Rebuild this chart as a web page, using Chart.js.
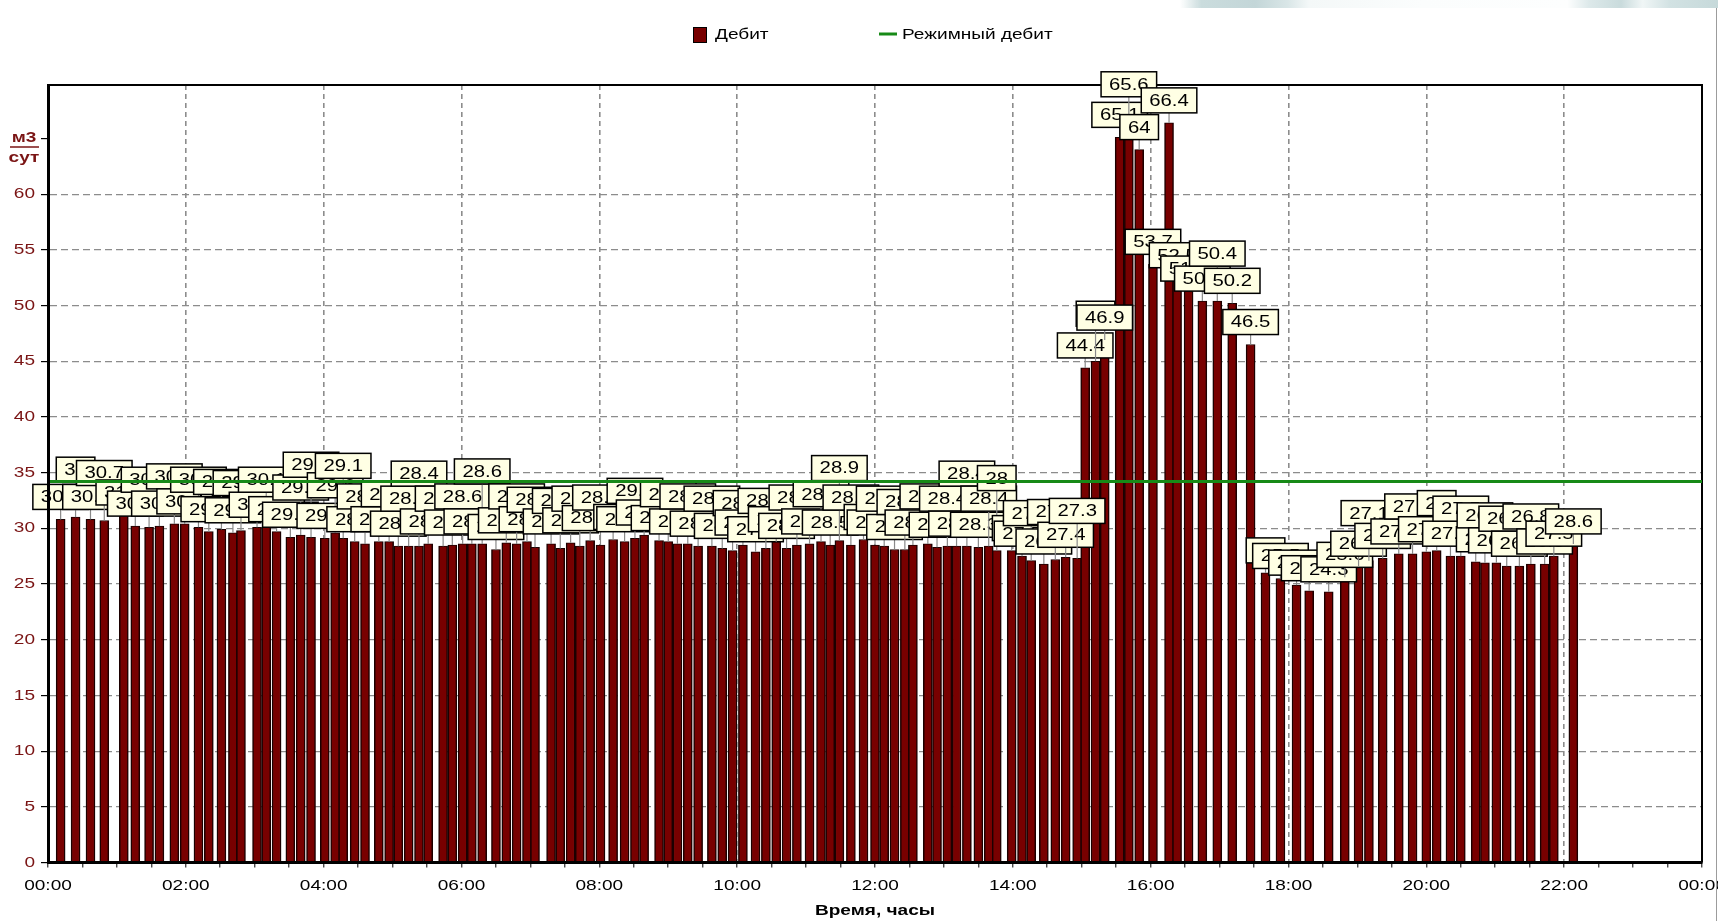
<!DOCTYPE html>
<html lang="ru">
<head>
<meta charset="utf-8">
<title>Дебит скважины за сутки</title>
<script src="https://cdn.jsdelivr.net/npm/chart.js@4.4.1/dist/chart.umd.min.js"></script>
<style>
  html, body { margin: 0; padding: 0; background: #fff; }
  body { width: 1718px; height: 921px; overflow: hidden; position: relative; }
  #chart { position: absolute; left: 0; top: 0; width: 1718px; height: 921px; }
  #topStrip {
    position: absolute; left: 1180px; top: 0; width: 538px; height: 8px;
    background: linear-gradient(90deg, rgba(205,222,224,0) 0%, #cadcdd 4%, #c3d6d8 14%, #d9e6e7 20%,
      #f4f8f8 24%, #fbfdfd 45%, #fdfefe 72%, #dde9ea 76%, #c9dbdc 82%, #f0f6f6 86%, #d2e2e3 91%, #c6d9da 100%);
  }
  #edge { position: absolute; left: 1716px; top: 8px; width: 1px; height: 913px; background: #9c9c9c; }
</style>
</head>
<body>
<canvas id="chart" width="1718" height="921"></canvas>
<div id="topStrip"></div>
<div id="edge"></div>
<script>
// Sample times (HH:MM) and measured flow rate, m3/day
const sampleTimes = [
  '00:11','00:24','00:37','00:49','01:06','01:16','01:28','01:37','01:50','01:59',
  '02:11','02:20','02:31','02:41','02:48','03:02','03:10','03:19','03:31','03:40',
  '03:49','04:01','04:10','04:17','04:27','04:36','04:48','04:57','05:05','05:14',
  '05:23','05:31','05:44','05:52','06:01','06:09','06:18','06:30','06:39','06:48',
  '06:57','07:04','07:18','07:26','07:35','07:43','07:52','08:01','08:12','08:22',
  '08:31','08:39','08:52','09:00','09:08','09:17','09:26','09:38','09:47','09:56',
  '10:05','10:16','10:25','10:34','10:43','10:52','11:03','11:13','11:21','11:29',
  '11:39','11:50','12:00','12:08','12:17','12:26','12:33','12:46','12:54','13:03',
  '13:11','13:20','13:30','13:39','13:46','13:59','14:08','14:16','14:27','14:37',
  '14:46','14:56','15:03','15:12','15:20','15:33','15:41','15:50','16:02','16:16',
  '16:23','16:33','16:45','16:58','17:11','17:27','17:40','17:53','18:07','18:18',
  '18:35','18:49','19:01','19:10','19:22','19:36','19:48','20:00','20:09','20:21',
  '20:30','20:43','20:51','21:01','21:10','21:21','21:31','21:43','21:51','22:08'
];
const flowRate = [
  30.8, 31.0, 30.8, 30.7, 31.2, 30.2, 30.1, 30.2, 30.4, 30.4,
  30.1, 29.7, 29.9, 29.6, 29.8, 30.1, 30.1, 29.7, 29.2, 29.4,
  29.2, 29.1, 29.6, 29.1, 28.8, 28.6, 28.8, 28.8, 28.4, 28.4,
  28.4, 28.6, 28.4, 28.5, 28.6, 28.6, 28.6, 28.1, 28.7, 28.6,
  28.8, 28.3, 28.6, 28.2, 28.7, 28.4, 28.9, 28.5, 29.0, 28.8,
  29.1, 29.4, 28.9, 28.8, 28.6, 28.6, 28.4, 28.4, 28.2, 28.0,
  28.5, 27.9, 28.2, 28.8, 28.2, 28.5, 28.6, 28.8, 28.5, 28.9,
  28.5, 29.0, 28.5, 28.4, 28.1, 28.1, 28.5, 28.6, 28.3, 28.4,
  28.4, 28.4, 28.3, 28.4, 28.0, 28.0, 27.5, 27.1, 26.8, 27.2,
  27.4, 27.3, 44.4, 45.0, 46.9, 65.1, 65.6, 64.0, 53.7, 66.4,
  52.5, 51.3, 50.4, 50.4, 50.2, 46.5, 26.0, 25.5, 24.9, 24.4,
  24.3, 25.6, 26.6, 27.1, 27.3, 27.7, 27.7, 27.9, 28.0, 27.5,
  27.5, 27.0, 26.9, 26.9, 26.6, 26.6, 26.8, 26.8, 27.5, 28.6
];
// Regime (target) flow rate over the day
const regimeTimes = ['00:00', '24:00'];
const regimeRate = [34.2, 34.2];

const seriesNames = ['Дебит', 'Режимный дебит'];
const timeTickLabels = ['00:00','02:00','04:00','06:00','08:00','10:00','12:00',
                        '14:00','16:00','18:00','20:00','22:00','00:00'];
const unitLabel = ['м3', 'сут'];
const timeAxisTitle = 'Время, часы';

const FONT = '"Liberation Sans", Arial, sans-serif';
const TEXT_STRETCH = 1.27;
const MAROON = '#780000';
const GRID = '#8c8c8c';
const GREEN = '#178a17';
const AXIS_RED = '#7a1414';

const toMinutes = s => { const [h, m] = s.split(':').map(Number); return h * 60 + m; };

// Wide, old-style lettering: every text run is stretched horizontally about its anchor
const stretchText = {
  id: 'stretchText',
  beforeInit(chart) {
    const ctx = chart.ctx;
    const fill = ctx.fillText.bind(ctx);
    const measure = ctx.measureText.bind(ctx);
    ctx.fillText = (text, x, y) => {
      ctx.save();
      ctx.translate(x, y);
      ctx.scale(TEXT_STRETCH, 1);
      fill(text, 0, 0);
      ctx.restore();
    };
    ctx.measureText = text => {
      const m = measure(text);
      return {
        width: m.width * TEXT_STRETCH,
        actualBoundingBoxAscent: m.actualBoundingBoxAscent,
        actualBoundingBoxDescent: m.actualBoundingBoxDescent
      };
    };
  }
};

// Top and right edges of the plot frame
const plotFrame = {
  id: 'plotFrame',
  beforeDatasetsDraw(chart) {
    const { ctx, chartArea: a } = chart;
    ctx.save();
    ctx.strokeStyle = '#000';
    ctx.lineWidth = 2;
    ctx.beginPath();
    ctx.moveTo(a.left, a.top);
    ctx.lineTo(a.right, a.top);
    ctx.lineTo(a.right, a.bottom);
    ctx.stroke();
    ctx.restore();
  }
};

function overlapFraction(a, b) {
  const w = Math.min(a.r, b.r) - Math.max(a.l, b.l);
  const h = Math.min(a.b, b.b) - Math.max(a.t, b.t);
  if (w <= 0 || h <= 0) return 0;
  return (w * h) / ((a.r - a.l) * (a.b - a.t));
}

// Value callouts above each bar, lifted row by row while they cover an earlier callout too much
const valueMarks = {
  id: 'valueMarks',
  afterDatasetDraw(chart, args) {
    if (args.index !== 0) return;
    const ctx = chart.ctx;
    const placed = [];
    const boxH = 25;
    ctx.save();
    ctx.font = '16px ' + FONT;
    ctx.textAlign = 'center';
    ctx.textBaseline = 'middle';
    args.meta.data.forEach((bar, i) => {
      const text = String(flowRate[i]);
      const w = ctx.measureText(text).width + 16;
      const base = bar.y - 10;
      let box;
      for (let k = 0; k < 6; k++) {
        box = { l: bar.x - w / 2, r: bar.x + w / 2, b: base - k * boxH, t: base - (k + 1) * boxH };
        if (placed.every(p => overlapFraction(box, p) < 0.62)) break;
      }
      placed.push(box);
      ctx.strokeStyle = '#8a8a8a';
      ctx.lineWidth = 1.2;
      ctx.beginPath();
      ctx.moveTo(bar.x, bar.y);
      ctx.lineTo(bar.x, box.b);
      ctx.stroke();
      ctx.fillStyle = '#ffffe4';
      ctx.fillRect(box.l, box.t, w, boxH);
      ctx.strokeStyle = '#000';
      ctx.lineWidth = 1.5;
      ctx.strokeRect(box.l, box.t, w, boxH);
      ctx.fillStyle = '#000';
      ctx.fillText(text, bar.x, (box.t + box.b) / 2 + 1);
    });
    ctx.restore();
  }
};

// Legend row and the unit caption of the rate axis
const legendAndUnits = {
  id: 'legendAndUnits',
  afterDraw(chart) {
    const ctx = chart.ctx;
    const sets = chart.data.datasets;
    ctx.save();
    ctx.font = '15px ' + FONT;
    ctx.textAlign = 'left';
    ctx.textBaseline = 'middle';
    ctx.fillStyle = sets[0].backgroundColor;
    ctx.fillRect(693, 27, 13, 15);
    ctx.strokeStyle = '#000';
    ctx.lineWidth = 1;
    ctx.strokeRect(693.5, 27.5, 13, 15);
    ctx.fillStyle = '#000';
    ctx.fillText(sets[0].label, 715, 35);
    ctx.strokeStyle = sets[1].borderColor;
    ctx.lineWidth = 3;
    ctx.beginPath();
    ctx.moveTo(879, 34);
    ctx.lineTo(897, 34);
    ctx.stroke();
    ctx.fillText(sets[1].label, 902, 35);

    ctx.font = 'bold 15px ' + FONT;
    ctx.fillStyle = AXIS_RED;
    ctx.textAlign = 'center';
    ctx.textBaseline = 'alphabetic';
    ctx.fillText(unitLabel[0], 24, 142);
    ctx.fillText(unitLabel[1], 24, 162);
    ctx.strokeStyle = AXIS_RED;
    ctx.lineWidth = 1.5;
    ctx.beginPath();
    ctx.moveTo(10, 147);
    ctx.lineTo(39, 147);
    ctx.stroke();
    ctx.restore();
  }
};

Chart.defaults.font.family = FONT;
Chart.defaults.font.size = 15;

new Chart(document.getElementById('chart'), {
  type: 'bar',
  data: {
    datasets: [
      {
        type: 'bar',
        label: seriesNames[0],
        data: sampleTimes.map((t, i) => ({ x: toMinutes(t), y: flowRate[i] })),
        backgroundColor: MAROON,
        borderColor: '#1c0000',
        borderWidth: { left: 1.5, right: 1.5, top: 1, bottom: 0 },
        barThickness: 9,
        order: 2
      },
      {
        type: 'line',
        label: seriesNames[1],
        data: regimeTimes.map((t, i) => ({ x: toMinutes(t), y: regimeRate[i] })),
        borderColor: GREEN,
        borderWidth: 3,
        pointRadius: 0,
        order: 1
      }
    ]
  },
  options: {
    responsive: false,
    animation: false,
    devicePixelRatio: 1,
    layout: { padding: { top: 85, right: 16, bottom: 0, left: 0 } },
    plugins: { legend: { display: false }, tooltip: { enabled: false } },
    scales: {
      x: {
        type: 'linear',
        min: 0,
        max: 1440,
        offset: false,
        grid: {
          offset: false,
          color: c => (c.tick && Math.round(c.tick.value) % 120 === 0 && c.tick.value > 0 && c.tick.value < 1440) ? GRID : 'rgba(0,0,0,0)',
          lineWidth: 1.6,
          tickColor: '#000',
          tickLength: 5,
          tickWidth: 1
        },
        border: { display: true, color: '#000', width: 3, dash: [5, 4], z: 1 },
        ticks: {
          stepSize: 30,
          autoSkip: false,
          maxRotation: 0,
          padding: 9,
          color: '#000',
          callback: v => (Math.round(v) % 120 === 0 ? timeTickLabels[Math.round(v) / 120] : '')
        },
        title: {
          display: true,
          text: timeAxisTitle,
          color: '#000',
          font: { size: 15, weight: 'bold' },
          padding: { top: 0, bottom: 1.5 }
        },
        afterFit: s => { s.height = 58.5; s.paddingLeft = 0; s.paddingRight = 0; }
      },
      y: {
        min: 0,
        max: 69.8,
        grid: {
          color: c => (c.tick && c.tick.value > 0 && c.tick.value <= 60) ? GRID : 'rgba(0,0,0,0)',
          lineWidth: 1.2,
          tickColor: c => (c.tick && c.tick.value <= 65) ? '#000' : 'rgba(0,0,0,0)',
          tickLength: 7
        },
        border: { display: true, color: '#000', width: 3, dash: [7, 4], z: 1 },
        ticks: {
          stepSize: 5,
          padding: 6,
          color: AXIS_RED,
          callback: v => (v % 5 === 0 && v <= 60 ? String(v) : '')
        },
        afterFit: s => { s.width = 48; s.paddingTop = 0; s.paddingBottom = 0; }
      }
    }
  },
  plugins: [stretchText, plotFrame, valueMarks, legendAndUnits]
});
</script>
</body>
</html>
